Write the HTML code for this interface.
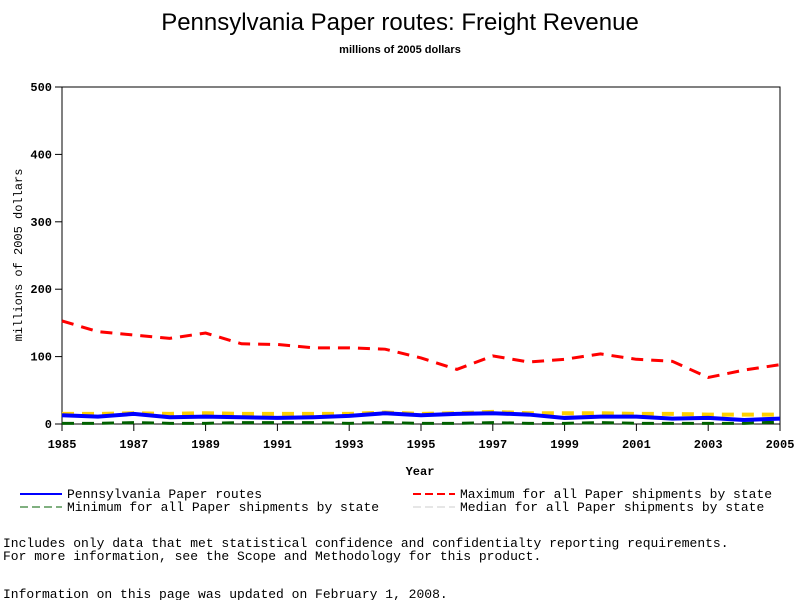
<!DOCTYPE html>
<html><head><meta charset="utf-8"><style>
body{margin:0;background:#fff;width:800px;height:600px;overflow:hidden}
svg text{font-family:"Liberation Sans",sans-serif}
svg text.m, svg .m text{font-family:"Liberation Mono",monospace}
</style></head><body>
<svg id="c" width="800" height="600">
<text x="400" y="30" text-anchor="middle" font-size="24">Pennsylvania Paper routes: Freight Revenue</text>
<text x="400" y="53" text-anchor="middle" font-size="11" font-weight="bold">millions of 2005 dollars</text>
<rect x="62" y="87" width="718" height="337" fill="none" stroke="#000"/>
<text class="m" transform="translate(22,255) rotate(-90)" text-anchor="middle" font-size="12">millions of 2005 dollars</text>
<text class="m" x="420" y="475" text-anchor="middle" font-weight="bold" font-size="12">Year</text>
<g id="axes"></g><g id="series"></g>
<g class="m" font-size="13">
<line x1="20" y1="494" x2="62" y2="494" stroke="#00f" stroke-width="2"/>
<text x="67" y="498">Pennsylvania Paper routes</text>
<line x1="413" y1="494" x2="455" y2="494" stroke="#f00" stroke-width="2" stroke-dasharray="8,4"/>
<text x="460" y="498">Maximum for all Paper shipments by state</text>
<line x1="20" y1="507" x2="62" y2="507" stroke="#006000" stroke-width="1" stroke-dasharray="8,4"/>
<text x="67" y="511">Minimum for all Paper shipments by state</text>
<line x1="413" y1="507" x2="455" y2="507" stroke="#ccc" stroke-width="1" stroke-dasharray="8,4"/>
<text x="460" y="511">Median for all Paper shipments by state</text>
</g>
<text class="m" x="3" y="547" font-size="13">Includes only data that met statistical confidence and confidentialty reporting requirements.</text>
<text class="m" x="3" y="560" font-size="13">For more information, see the Scope and Methodology for this product.</text>
<text class="m" x="3" y="598" font-size="13">Information on this page was updated on February 1, 2008.</text>
</svg>
<script>
const years=[1985,1986,1987,1988,1989,1990,1991,1992,1993,1994,1995,1996,1997,1998,1999,2000,2001,2002,2003,2004,2005];
const xTicks=[1985,1987,1989,1991,1993,1995,1997,1999,2001,2003,2005];
const yTicks=[0,100,200,300,400,500];
const maxVals=[153,137,132,127,135,119,118,113,113,111,98,81,101,92,96,104,96,93,69,80,88];
const medianVals=[15,15,16,15,16,15,15,15,15,17,15,16,18,16,16,16,15,15,14,14,14];
const minVals=[1,1,2,1,1,2,2,2,1,2,1,1,2,1,1,2,1,1,1,1,3];
const paVals=[13,11,15,10,11,10,9,10,12,16,13,15,16,14,9,11,11,8,9,6,8];
const NS="http://www.w3.org/2000/svg";
const X=y=>62+(y-1985)*718/20, Y=v=>424-v*337/500;
const ax=document.getElementById('axes'), se=document.getElementById('series');
function mk(t,a,p){const e=document.createElementNS(NS,t);for(const k in a)e.setAttribute(k,a[k]);p.appendChild(e);return e;}
xTicks.forEach(t=>{
 const l=mk('line',{x1:X(t),x2:X(t),y1:424,y2:431,stroke:'#000'},ax);
 
 
 const tx=mk('text',{x:X(t),y:448,'text-anchor':'middle','font-size':12,'font-weight':'bold',class:'m'},ax);tx.textContent=t;
 
 
});
yTicks.forEach(t=>{
 const l=mk('line',{x1:55,x2:62,y1:Y(t),y2:Y(t),stroke:'#000'},ax);
 
 
 const tx=mk('text',{x:52,y:Y(t)+4,'text-anchor':'end','font-size':12,'font-weight':'bold',class:'m'},ax);tx.textContent=t;
 
 
});
function line(vals,color,w,dash,name){
 const p=mk('polyline',{points:vals.map((v,i)=>X(years[i])+','+Y(v)).join(' '),fill:'none',stroke:color,'stroke-width':w,'stroke-dasharray':dash},se);
 
 
}
line(minVals,'#006000',3,'12,8','series-minimum');
line(medianVals,'#ffd000',4,'12,8','series-median');
line(paVals,'#0000ff',4,'none','series-pennsylvania');
line(maxVals,'#ff0000',3,'12,8','series-maximum');
</script>
</body></html>
